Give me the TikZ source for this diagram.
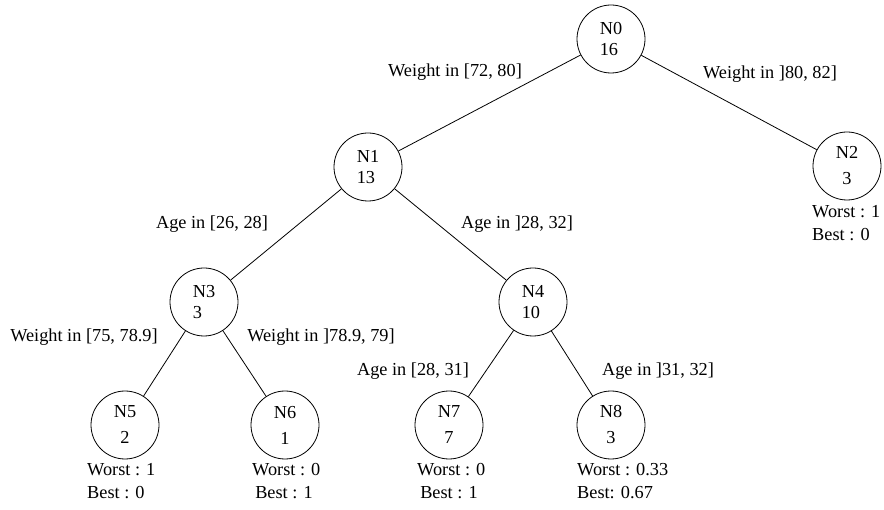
\documentclass[tikz,border=0pt]{standalone}
\usepackage{fontspec}
\setmainfont{Liberation Serif}
\begin{document}
\begin{tikzpicture}[x=1pt,y=-1pt,
  every node/.style={font=\fontsize{18.3}{21}\selectfont},
  tnode/.style={draw,circle,minimum size=68pt,inner sep=0pt,line width=0.8pt},
  branch/.style={line width=0.8pt},
  cond/.style={inner sep=0pt,anchor=center},
  score/.style={inner sep=0pt,align=left,anchor=north west}]
\useasboundingbox (0,0) rectangle (884,510);
% tree nodes
\node[tnode,align=left] (n0) at (611,39) {N0\\16};
\node[tnode,align=left] (n1) at (368,167) {N1\\13};
\node[tnode,align=center] (n2) at (847,166) {N2\\[5pt]3};
\node[tnode,align=left] (n3) at (204,302) {N3\\3};
\node[tnode,align=left] (n4) at (533,302) {N4\\10};
\node[tnode,align=center] (n5) at (125,425) {N5\\[5pt]2};
\node[tnode,align=center] (n6) at (285,425) {N6\\[5pt]1};
\node[tnode,align=center] (n7) at (449,425) {N7\\[5pt]7};
\node[tnode,align=center] (n8) at (611,425) {N8\\[5pt]3};
% branches
\draw[branch] (n0) -- (n1);
\draw[branch] (n0) -- (n2);
\draw[branch] (n1) -- (n3);
\draw[branch] (n1) -- (n4);
\draw[branch] (n3) -- (n5);
\draw[branch] (n3) -- (n6);
\draw[branch] (n4) -- (n7);
\draw[branch] (n4) -- (n8);
% split conditions
\node[cond] (c01) at (455,72) {Weight in [72, 80]};
\node[cond] (c02) at (770,74) {Weight in ]80, 82]};
\node[cond] (c13) at (212,224) {Age in [26, 28]};
\node[cond] (c14) at (517,224) {Age in ]28, 32]};
\node[cond] (c35) at (84,337) {Weight in [75, 78.9]};
\node[cond] (c36) at (321,337) {Weight in ]78.9, 79]};
\node[cond] (c47) at (413,371) {Age in [28, 31]};
\node[cond] (c48) at (658,371) {Age in ]31, 32]};
% leaf scores
\node[score] (s2) at (812,205) {Worst : 1\\[2pt]Best : 0};
\node[score] (s5) at (87,463) {Worst : 1\\[2pt]Best : 0};
\node[score] (s6) at (252,463) {Worst : 0\\[2pt]\,Best : 1};
\node[score] (s7) at (417,463) {Worst : 0\\[2pt]\,Best : 1};
\node[score] (s8) at (577,463) {Worst : 0.33\\[2pt]Best: 0.67};
\end{tikzpicture}
\end{document}
